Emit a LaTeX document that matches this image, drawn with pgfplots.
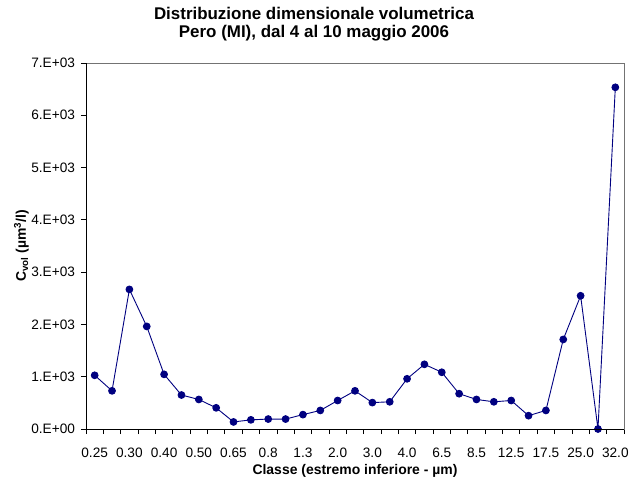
\documentclass[border=0pt]{standalone}
\usepackage{fontspec}
\setmainfont{Liberation Sans}
\usepackage{pgfplots}
\pgfplotsset{compat=1.18}
\definecolor{navy}{RGB}{0,0,128}
\begin{document}
\begin{tikzpicture}
\begin{axis}[
  name=ax,
  scale only axis, width=538bp, height=366bp,
  xmin=-0.5, xmax=30.5, ymin=0, ymax=7000,
  xtick={0,2,...,30},
  xticklabels={0.25,0.30,0.40,0.50,0.65,0.8,1.3,2.0,3.0,4.0,6.5,8.5,12.5,17.5,25.0,32.0},
  minor xtick={-0.5,0.5,...,30.5},
  major x tick style={draw=none},
  ytick={0,1000,...,7000},
  yticklabels={0.E+00,1.E+03,2.E+03,3.E+03,4.E+03,5.E+03,6.E+03,7.E+03},
  scaled y ticks=false,
  tick align=outside, xtick pos=left, ytick pos=left,
  major tick length=5bp, minor tick length=5bp,
  tick style={black, line width=0.8bp},
  axis line style={draw=black!55, line width=0.8bp},
  ticklabel style={font=\fontsize{13.7}{16}\selectfont},
  xticklabel style={yshift=-10.5bp},
  yticklabel style={xshift=-2.5bp},
]
\addplot[navy, line width=0.9bp, mark=*, mark size=3.4bp, mark options={fill=navy, draw=navy}]
  table[x=i, y=c] {
i c
0 1027
1 730
2 2670
3 1962
4 1045
5 650
6 565
7 405
8 135
9 175
10 190
11 190
12 275
13 355
14 545
15 730
16 505
17 520
18 960
19 1237
20 1085
21 675
22 565
23 520
24 545
25 255
26 355
27 1713
28 2548
29 0
30 6535
};
\end{axis}
\draw[black, line width=0.8bp] (ax.north west) -- (ax.south west) -- (ax.south east);
\path (ax.north) ++(-41bp,44bp) node[anchor=base, font=\bfseries\fontsize{17}{20}\selectfont] {Distribuzione dimensionale volumetrica};
\path (ax.north) ++(-41bp,25.5bp) node[anchor=base, font=\bfseries\fontsize{17}{20}\selectfont] {Pero (MI), dal 4 al 10 maggio 2006};
\path (ax.south) ++(0,-45bp) node[anchor=base, font=\bfseries\fontsize{14}{16}\selectfont] {Classe (estremo inferiore - µm)};
\path (ax.west) ++(-60bp,0) node[anchor=base, rotate=90, font=\bfseries\fontsize{14}{16}\selectfont] {C\textsubscript{vol} (µm\textsuperscript{3}/l)};
\path (ax.south west) ++(-86bp,-53bp) rectangle ++(642bp,482bp);
\end{tikzpicture}
\end{document}
